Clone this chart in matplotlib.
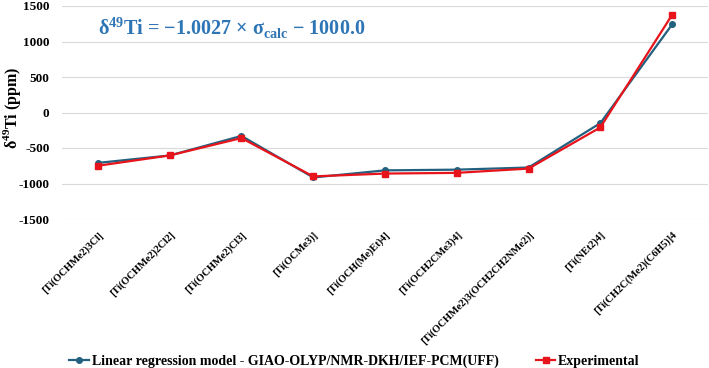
import matplotlib
matplotlib.use("Agg")
import matplotlib.pyplot as plt

compounds = ["[Ti(OCHMe2)3Cl]", "[Ti(OCHMe2)2Cl2]", "[Ti(OCHMe2)Cl3]", "[Ti(OCMe3)]",
             "[Ti(OCH(Me)Et)4]", "[Ti(OCH2CMe3)4]", "[Ti(OCHMe2)3(OCH2CH2NMe2)]",
             "[Ti(NEt2)4]", "[Ti(CH2C(Me2)(C6H5)]4"]
model = [-710, -605, -330, -915, -815, -805, -775, -150, 1240]
experimental = [-750, -605, -360, -900, -860, -850, -790, -210, 1375]
yticks = [-1500, -1000, -500, 0, 500, 1000, 1500]

blue = "#22607f"
red = "#e8141b"

plt.rcParams["font.family"] = ["Liberation Serif", "DejaVu Serif"]
plt.rcParams["mathtext.fontset"] = "custom"
plt.rcParams["mathtext.rm"] = "Liberation Serif:bold"
plt.rcParams["mathtext.bf"] = "Liberation Serif:bold"

fig = plt.figure(figsize=(7.09, 3.68), dpi=100)
ax = fig.add_axes([62 / 709, 149 / 368, 646 / 709, 213 / 368])

x = list(range(len(compounds)))
ax.plot(x, model, color=blue, lw=1.6, marker="o", ms=4,
        label="Linear regression model - GIAO-OLYP/NMR-DKH/IEF-PCM(UFF)", zorder=3)
ax.plot(x, experimental, color=red, lw=1.6, marker="s", ms=4,
        label="Experimental", zorder=4)

ax.set_xlim(-0.5, len(compounds) - 0.5)
ax.set_ylim(-1500, 1500)
ax.set_yticks(yticks)
ax.set_yticklabels([str(v) for v in yticks], fontsize=9.5, fontweight="bold")
ax.set_xticks(x)
ax.set_xticklabels(compounds, rotation=45, ha="right", rotation_mode="anchor",
                   fontsize=7.5, fontweight="bold")
ax.tick_params(axis="y", length=0, pad=9)
ax.tick_params(axis="x", length=0, pad=8)
ax.grid(axis="y", color="#d9d9d9", lw=0.8)
for s in ax.spines.values():
    s.set_visible(False)

# y label placed by hand so it stays inside the figure
fig.text(12 / 709, 1 - 108 / 368, r"δ$^{49}$Ti (ppm)", rotation=90, fontsize=11.5,
         fontweight="bold", ha="center", va="center")

ax.text(0.055, 0.895, r"δ$^{\mathbf{49}}$Ti = −1.0027 × σ$_{\mathbf{calc}}$ − 1000.0",
        transform=ax.transAxes, color="#2e75b6", fontsize=14.5, fontweight="bold",
        va="center", ha="left")

fig.legend(loc="lower center", bbox_to_anchor=(0.5, -0.035), ncol=2, frameon=False,
           prop={"weight": "bold", "size": 10}, handlelength=1.4, handletextpad=0.2,
           columnspacing=2.7)

fig.savefig("out.png", dpi=100)
